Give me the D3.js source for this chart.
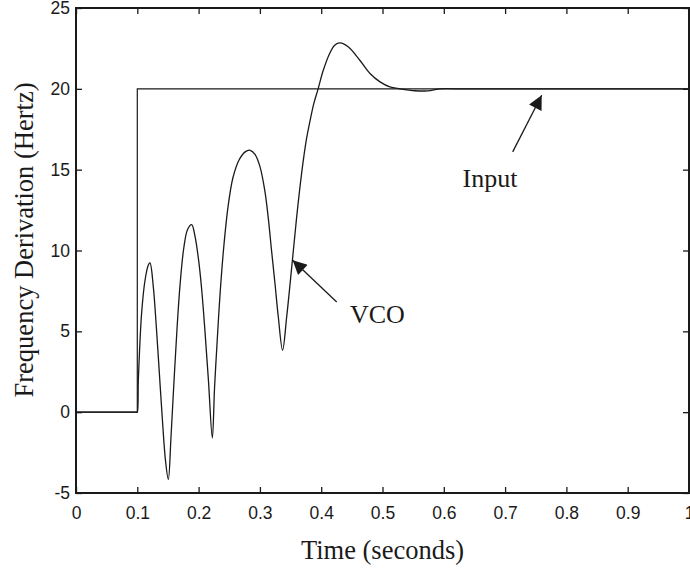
<!DOCTYPE html>
<html lang="en">
  <head>
    <meta charset="UTF-8" />
    <title>VCO step response</title>
    <script src="https://d3js.org/d3.v7.min.js"></script>
    <style>
      body {
        margin: 0;
        background: #fff;
      }
      .tick text {
        font-family: "Liberation Sans", Arial, sans-serif;
        font-size: 17.5px;
        fill: #1a1a1a;
      }
      .tick line {
        stroke: #1a1a1a;
        stroke-width: 1.3px;
      }
      .label {
        font-family: "Liberation Serif", "Times New Roman", serif;
        font-size: 26px;
        fill: #1a1a1a;
      }
      .title {
        font-family: "Liberation Serif", "Times New Roman", serif;
        font-size: 26.5px;
        fill: #1a1a1a;
      }
    </style>
  </head>
  <body>
    <svg id="chart" width="690" height="568"></svg>
  </body>
  <script>
    // input step
    const inputTime = [0, 0.1, 0.1, 1.0];
    const inputValue = [0, 0, 20, 20];

    // VCO response
    const vcoTime = [
      0, 0.099, 0.1, 0.1017, 0.107, 0.1126, 0.118, 0.1207, 0.126, 0.131, 0.136,
      0.141, 0.146, 0.1506, 0.155, 0.16, 0.165, 0.17, 0.176, 0.182, 0.1887,
      0.194, 0.2, 0.205, 0.2104, 0.216, 0.2224, 0.226, 0.23, 0.235, 0.241,
      0.248, 0.256, 0.266, 0.276, 0.284, 0.292, 0.3, 0.308, 0.3137, 0.319,
      0.3246, 0.33, 0.337, 0.3437, 0.352, 0.36, 0.368, 0.376, 0.3817, 0.388,
      0.395, 0.403, 0.414, 0.422, 0.4307, 0.444, 0.463, 0.4796, 0.496, 0.512,
      0.5286, 0.553, 0.574, 0.594, 0.62, 1.0,
    ];
    const vcoValue = [
      0, 0, 0, 2.0, 6.1, 8.16, 9.1, 9.23, 7.8, 5.3, 2.4, -0.5, -3.0, -4.16,
      -1.5, 2.0, 5.3, 8.0, 10.2, 11.3, 11.6, 10.9, 9.4, 7.6, 5.0, 2.0, -1.6,
      1.5, 4.2, 7.3, 10.2, 12.7, 14.5, 15.6, 16.1, 16.2, 15.95, 15.2, 13.7,
      12.0, 10.0, 7.96, 5.9, 3.83, 5.9, 9.0, 12.08, 14.76, 16.9, 18.0, 19.1,
      20.0, 21.1, 22.2, 22.7, 22.84, 22.6, 21.77, 20.95, 20.43, 20.12, 20.0,
      19.88, 19.88, 20.0, 20.0, 20.0,
    ];

    const xTicks = [0, 0.1, 0.2, 0.3, 0.4, 0.5, 0.6, 0.7, 0.8, 0.9, 1];
    const yTicks = [-5, 0, 5, 10, 15, 20, 25];

    // annotations: [text, textT, textV, tailT, tailV, tipT, tipV]
    const notes = [
      ["Input", 0.6307, 13.93, 0.7124, 16.1, 0.7597, 19.6],
      ["VCO", 0.447, 5.5, 0.4253, 6.82, 0.3535, 9.4],
    ];

    const margin = { top: 8, right: 1, bottom: 75, left: 76 };
    const W = 690,
      H = 568;
    const w = W - margin.left - margin.right;
    const h = H - margin.top - margin.bottom;

    const svg = d3.select("#chart");
    const g = svg
      .append("g")
      .attr("transform", `translate(${margin.left},${margin.top})`);

    const x = d3.scaleLinear().domain([0, 1]).range([0, w]);
    const y = d3.scaleLinear().domain([-5, 25]).range([h, 0]);

    const fmt = (d) => String(d);

    g.append("g")
      .attr("transform", `translate(0,${h})`)
      .call(
        d3.axisBottom(x).tickValues(xTicks).tickFormat(fmt).tickSize(-6).tickPadding(14)
      );
    g.append("g").call(
      d3.axisTop(x).tickValues(xTicks).tickFormat("").tickSize(-6)
    );
    g.append("g").call(
      d3.axisLeft(y).tickValues(yTicks).tickFormat(fmt).tickSize(-6).tickPadding(6)
    );
    g.append("g")
      .attr("transform", `translate(${w},0)`)
      .call(d3.axisRight(y).tickValues(yTicks).tickFormat("").tickSize(-6));
    g.selectAll(".domain").remove();

    // box
    g.append("rect")
      .attr("x", 0)
      .attr("y", 0)
      .attr("width", w)
      .attr("height", h)
      .attr("fill", "none")
      .attr("stroke", "#1a1a1a")
      .attr("stroke-width", 2);

    const inputData = inputTime.map((t, i) => [t, inputValue[i]]);
    const vcoData = vcoTime.map((t, i) => [t, vcoValue[i]]);

    g.append("path")
      .datum(inputData)
      .attr("fill", "none")
      .attr("stroke", "#1a1a1a")
      .attr("stroke-width", 1.2)
      .attr(
        "d",
        d3
          .line()
          .x((d) => x(d[0]))
          .y((d) => y(d[1]))
      );

    g.append("path")
      .datum(vcoData)
      .attr("fill", "none")
      .attr("stroke", "#1a1a1a")
      .attr("stroke-width", 1.3)
      .attr(
        "d",
        d3
          .line()
          .curve(d3.curveCatmullRom.alpha(0.5))
          .x((d) => x(d[0]))
          .y((d) => y(d[1]))
      );

    // arrows
    svg
      .append("defs")
      .append("marker")
      .attr("id", "arrow")
      .attr("viewBox", "0 0 10 10")
      .attr("refX", 10)
      .attr("refY", 5)
      .attr("markerWidth", 16)
      .attr("markerHeight", 14)
      .attr("markerUnits", "userSpaceOnUse")
      .attr("orient", "auto")
      .append("path")
      .attr("d", "M0,0 L10,5 L0,10 Z")
      .attr("fill", "#1a1a1a");

    notes.forEach((n) => {
      g.append("line")
        .attr("x1", x(n[3]))
        .attr("y1", y(n[4]))
        .attr("x2", x(n[5]))
        .attr("y2", y(n[6]))
        .attr("stroke", "#1a1a1a")
        .attr("stroke-width", 1.3)
        .attr("marker-end", "url(#arrow)");
      g.append("text")
        .attr("class", "label")
        .attr("x", x(n[1]))
        .attr("y", y(n[2]))
        .text(n[0]);
    });

    // axis titles
    svg
      .append("text")
      .attr("class", "title")
      .attr("x", margin.left + w / 2)
      .attr("y", 559)
      .attr("text-anchor", "middle")
      .text("Time (seconds)");

    svg
      .append("text")
      .attr("class", "title")
      .attr("transform", "translate(33,240) rotate(-90)")
      .attr("text-anchor", "middle")
      .text("Frequency Derivation (Hertz)");
  </script>
</html>
